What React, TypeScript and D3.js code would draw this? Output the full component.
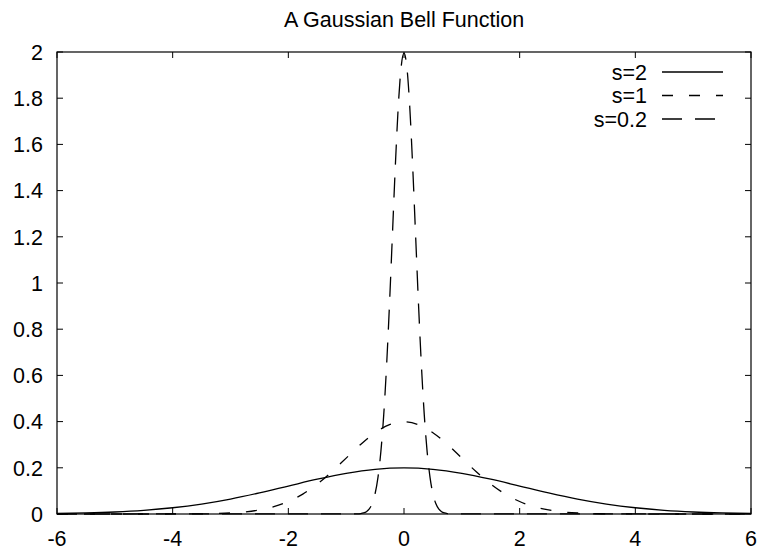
import React from 'react';
import * as d3 from 'd3';

const TITLE = 'A Gaussian Bell Function';

const xTicks = [-6, -4, -2, 0, 2, 4, 6];
const xTickLabels = ['-6', '-4', '-2', '0', '2', '4', '6'];
const yTicks = [0, 0.2, 0.4, 0.6, 0.8, 1, 1.2, 1.4, 1.6, 1.8, 2];
const yTickLabels = ['0', '0.2', '0.4', '0.6', '0.8', '1', '1.2', '1.4', '1.6', '1.8', '2'];

// s=2 curve
const xWide = [-6, -5.5, -5, -4.5, -4, -3.5, -3, -2.5, -2, -1.5, -1, -0.5, 0,
  0.5, 1, 1.5, 2, 2.5, 3, 3.5, 4, 4.5, 5, 5.5, 6];
const yS2 = [0.00222, 0.00455, 0.00876, 0.01587, 0.027, 0.04314, 0.06476, 0.09132, 0.12099, 0.15057, 0.17603, 0.19333, 0.19947,
  0.19333, 0.17603, 0.15057, 0.12099, 0.09132, 0.06476, 0.04314, 0.027, 0.01587, 0.00876, 0.00455, 0.00222];

// s=1 curve
const xMid = [-6, -5, -4, -3.75, -3.5, -3.25, -3, -2.75, -2.5, -2.25, -2, -1.75, -1.5, -1.25, -1, -0.75, -0.5, -0.25, 0,
  0.25, 0.5, 0.75, 1, 1.25, 1.5, 1.75, 2, 2.25, 2.5, 2.75, 3, 3.25, 3.5, 3.75, 4, 5, 6];
const yS1 = [0, 0, 0.00013, 0.00035, 0.00087, 0.00203, 0.00443, 0.00909, 0.01753, 0.03174, 0.05399, 0.08628, 0.12952, 0.18265, 0.24197, 0.30114, 0.35207, 0.38667, 0.39894,
  0.38667, 0.35207, 0.30114, 0.24197, 0.18265, 0.12952, 0.08628, 0.05399, 0.03174, 0.01753, 0.00909, 0.00443, 0.00203, 0.00087, 0.00035, 0.00013, 0, 0];

// s=0.2 curve
const xNarrow = [-6, -0.8, -0.75, -0.7, -0.65, -0.6, -0.55, -0.5, -0.45, -0.4, -0.35, -0.3, -0.25, -0.2, -0.15, -0.1, -0.05, 0,
  0.05, 0.1, 0.15, 0.2, 0.25, 0.3, 0.35, 0.4, 0.45, 0.5, 0.55, 0.6, 0.65, 0.7, 0.75, 0.8, 6];
const yS02 = [0, 0.0007, 0.0018, 0.0044, 0.0101, 0.0222, 0.0455, 0.0876, 0.1587, 0.27, 0.4314, 0.6476, 0.9132, 1.2099, 1.5057, 1.7603, 1.9333, 1.9947,
  1.9333, 1.7603, 1.5057, 1.2099, 0.9132, 0.6476, 0.4314, 0.27, 0.1587, 0.0876, 0.0455, 0.0222, 0.0101, 0.0044, 0.0018, 0.0007, 0];

const seriesNames = ['s=2', 's=1', 's=0.2'];
const seriesX = [xWide, xMid, xNarrow];
const seriesY = [yS2, yS1, yS02];

// line styles, gnuplot-ish
const dashes = ['none', '11,16', '20,13'];

const W = 760;
const H = 551;
const margin = { left: 57, right: 9, top: 52, bottom: 37 };
const FONT = '"Liberation Sans", Arial, sans-serif';
const FS = 21.5;
const TICK = 6;

export default function App() {
  const x = d3.scaleLinear().domain([-6, 6]).range([margin.left, W - margin.right]);
  const y = d3.scaleLinear().domain([0, 2]).range([H - margin.bottom, margin.top]);
  const x0 = x.range()[0];
  const x1 = x.range()[1];
  const yb = y.range()[0];
  const yt = y.range()[1];

  const line = d3
    .line<[number, number]>()
    .x((d) => x(d[0]))
    .y((d) => y(d[1]))
    .curve(d3.curveMonotoneX);

  const legendTextX = 647;
  const legendLine = [662, 723];
  const legendY0 = 72;
  const legendStep = 23.5;

  return (
    <svg
      width={W}
      height={H}
      style={{ position: 'absolute', left: 0, top: 0, background: '#fff' }}
      fontFamily={FONT}
    >
      <rect x={0} y={0} width={W} height={H} fill="#fff" />

      {/* title */}
      <text x={(x0 + x1) / 2} y={27} textAnchor="middle" fontSize={FS} fill="#000">
        {TITLE}
      </text>

      {/* y ticks, mirrored on the right */}
      {yTicks.map((t, i) => (
        <g key={'y' + i}>
          <line x1={x0} x2={x0 + TICK} y1={y(t)} y2={y(t)} stroke="#000" strokeWidth={1} />
          <line x1={x1} x2={x1 - TICK} y1={y(t)} y2={y(t)} stroke="#000" strokeWidth={1} />
          <text x={43} y={y(t)} dy="0.36em" textAnchor="end" fontSize={FS} fill="#000">
            {yTickLabels[i]}
          </text>
        </g>
      ))}

      {/* x ticks, mirrored on top */}
      {xTicks.map((t, i) => (
        <g key={'x' + i}>
          <line x1={x(t)} x2={x(t)} y1={yb} y2={yb - TICK} stroke="#000" strokeWidth={1} />
          <line x1={x(t)} x2={x(t)} y1={yt} y2={yt + TICK} stroke="#000" strokeWidth={1} />
          <text x={x(t)} y={546} textAnchor="middle" fontSize={FS} fill="#000">
            {xTickLabels[i]}
          </text>
        </g>
      ))}

      {/* curves */}
      {seriesNames.map((name, i) => {
        const pts = seriesX[i].map((v, j) => [v, seriesY[i][j]] as [number, number]);
        return (
          <path
            key={name}
            d={line(pts) || ''}
            fill="none"
            stroke="#000"
            strokeWidth={1.3}
            strokeDasharray={dashes[i]}
          />
        );
      })}

      {/* border */}
      <rect
        x={x0}
        y={yt}
        width={x1 - x0}
        height={yb - yt}
        fill="none"
        stroke="#000"
        strokeWidth={1.2}
      />

      {/* legend */}
      {seriesNames.map((name, i) => {
        const ly = legendY0 + i * legendStep;
        return (
          <g key={'lg' + i}>
            <text x={legendTextX} y={ly} dy="0.36em" textAnchor="end" fontSize={FS} fill="#000">
              {name}
            </text>
            <line
              x1={legendLine[0]}
              x2={legendLine[1]}
              y1={ly}
              y2={ly}
              stroke="#000"
              strokeWidth={1.3}
              strokeDasharray={dashes[i]}
            />
          </g>
        );
      })}
    </svg>
  );
}
